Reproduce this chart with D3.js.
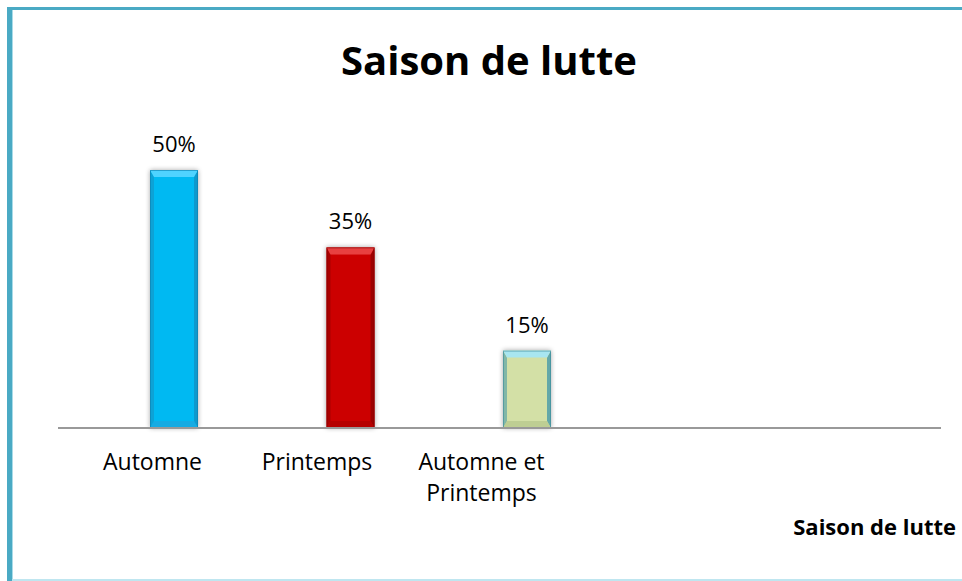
<!DOCTYPE html>
<html>
<head>
<meta charset="utf-8">
<script src="https://cdn.jsdelivr.net/npm/d3@7"></script>
<style>
  body { margin: 0; background: #fff; }
  svg { display: block; }
</style>
</head>
<body>
<div id="chart"></div>
<script>
// data
const categories = ["Automne", "Printemps", "Automne et Printemps"];
const values = [50, 35, 15];
const valueLabels = ["50%", "35%", "15%"];
const chartTitle = "Saison de lutte";
const axisTitle = "Saison de lutte";

const width = 962, height = 581;
const baseY = 428;
const barW = 48;

// colour sets per bar: body, top bevel, side shade, bottom bevel
const palettes = [
  { body: "#00b9f2", top: "#4fd3ff", side: "#0e8fc0", bottom: "#1aa8de", edge: "#0b7fae" },
  { body: "#cc0000", top: "#e84040", side: "#8e0000", bottom: "#b00000", edge: "#800000" },
  { body: "#d3e0a6", top: "#a8e6f0", side: "#3e96a8", bottom: "#b9c98e", edge: "#3a8a9c" }
];

const svg = d3.select("#chart").append("svg")
  .attr("width", width)
  .attr("height", height);

// frame
svg.append("rect").attr("x", 0).attr("y", 0).attr("width", width).attr("height", height).attr("fill", "#fff");
svg.append("rect").attr("x", 7).attr("y", 7).attr("width", width - 7).attr("height", 3).attr("fill", "#4aaac4");
svg.append("rect").attr("x", 7).attr("y", 7).attr("width", 5).attr("height", height - 7).attr("fill", "#4aaac4");
svg.append("rect").attr("x", 12).attr("y", 10).attr("width", 1).attr("height", height - 10).attr("fill", "#a9dbe8");
svg.append("rect").attr("x", 12).attr("y", 579).attr("width", width - 12).attr("height", 2).attr("fill", "#bfe6f0");

const x = d3.scalePoint()
  .domain(categories)
  .range([85.75, 615.25])
  .padding(0.5);

// tick labels sit a bit left of the bars in the original
const xLabel = d3.scalePoint()
  .domain(categories)
  .range([70.25, 563.75])
  .padding(0.5);

const y = d3.scaleLinear()
  .domain([0, 50])
  .range([baseY, 170]);

// title
svg.append("text")
  .attr("x", 489)
  .attr("y", 75)
  .attr("text-anchor", "middle")
  .style("font-family", "'Open Sans', sans-serif")
  .style("font-weight", "bold")
  .style("font-size", "40px")
  .attr("fill", "#000")
  .text(chartTitle);

const defs = svg.append("defs");
const shadow = defs.append("filter").attr("id", "shadow").attr("x", "-30%").attr("y", "-10%").attr("width", "160%").attr("height", "120%");
shadow.append("feGaussianBlur").attr("in", "SourceAlpha").attr("stdDeviation", 2.5);
shadow.append("feOffset").attr("dx", 0).attr("dy", 0).attr("result", "blur");
shadow.append("feComponentTransfer").append("feFuncA").attr("type", "linear").attr("slope", 0.35);
const merge = shadow.append("feMerge");
merge.append("feMergeNode");
merge.append("feMergeNode").attr("in", "SourceGraphic");

// bars
const bars = svg.append("g").selectAll("g")
  .data(categories)
  .join("g")
  .attr("filter", "url(#shadow)");

bars.each(function(d, i) {
  const g = d3.select(this);
  const p = palettes[i];
  const x0 = x(d) - barW / 2, x1 = x(d) + barW / 2;
  const top = y(values[i]), bot = baseY;
  const bev = 7;

  g.append("rect")
    .attr("x", x0).attr("y", top).attr("width", barW).attr("height", bot - top)
    .attr("fill", p.body);
  // left and right sides
  g.append("polygon")
    .attr("points", [[x0, top], [x0 + 4, top + bev], [x0 + 4, bot - bev], [x0, bot]].join(" "))
    .attr("fill", p.side).attr("opacity", 0.55);
  g.append("polygon")
    .attr("points", [[x1, top], [x1 - 4, top + bev], [x1 - 4, bot - bev], [x1, bot]].join(" "))
    .attr("fill", p.side).attr("opacity", 0.75);
  // top bevel
  g.append("polygon")
    .attr("points", [[x0, top], [x1, top], [x1 - 4, top + bev], [x0 + 4, top + bev]].join(" "))
    .attr("fill", p.top);
  // bottom bevel
  g.append("polygon")
    .attr("points", [[x0 + 4, bot - bev], [x1 - 4, bot - bev], [x1, bot], [x0, bot]].join(" "))
    .attr("fill", p.bottom).attr("opacity", 0.8);
  g.append("rect")
    .attr("x", x0 + 0.5).attr("y", top + 0.5).attr("width", barW - 1).attr("height", bot - top - 1)
    .attr("fill", "none").attr("stroke", p.edge).attr("stroke-width", 1).attr("opacity", 0.6);
});

// axis line
svg.append("line")
  .attr("x1", 58).attr("x2", 941)
  .attr("y1", baseY).attr("y2", baseY)
  .attr("stroke", "#999").attr("stroke-width", 2);

// value labels
svg.append("g").selectAll("text")
  .data(categories)
  .join("text")
  .attr("x", d => x(d))
  .attr("y", (d, i) => y(values[i]) - 18)
  .attr("text-anchor", "middle")
  .style("font-family", "'Open Sans', sans-serif")
  .style("font-size", "22px")
  .attr("fill", "#000")
  .text((d, i) => valueLabels[i]);

// category labels, wrapped like the original
const catLines = { "Automne et Printemps": ["Automne et", "Printemps"] };
const catText = svg.append("g").selectAll("text")
  .data(categories)
  .join("text")
  .attr("x", d => xLabel(d))
  .attr("y", 470)
  .attr("text-anchor", "middle")
  .style("font-family", "'Open Sans', sans-serif")
  .style("font-size", "23px")
  .attr("fill", "#000");
catText.each(function(d) {
  const lines = catLines[d] || [d];
  d3.select(this).selectAll("tspan")
    .data(lines)
    .join("tspan")
    .attr("x", xLabel(d))
    .attr("dy", (l, j) => j === 0 ? 0 : 31)
    .text(l => l);
});

// axis title
svg.append("text")
  .attr("x", 956)
  .attr("y", 535)
  .attr("text-anchor", "end")
  .style("font-family", "'Open Sans', sans-serif")
  .style("font-weight", "bold")
  .style("font-size", "22px")
  .attr("fill", "#000")
  .text(axisTitle);
</script>
</body>
</html>
